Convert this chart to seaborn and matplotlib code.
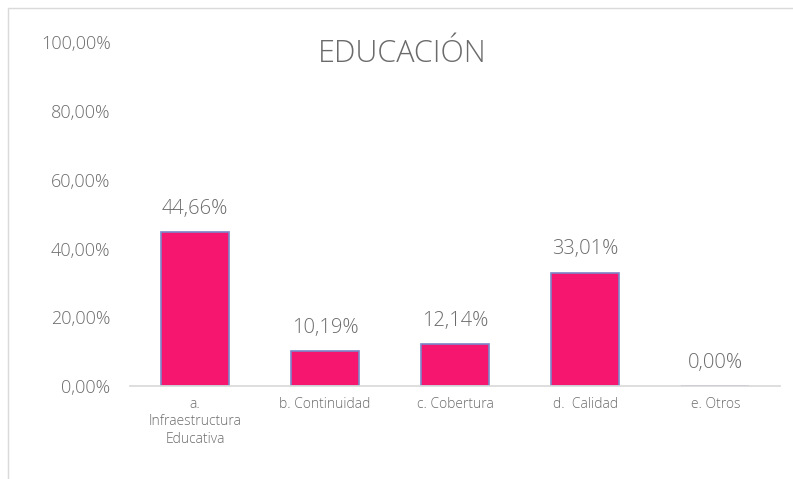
import pandas as pd
import matplotlib.pyplot as plt
from matplotlib.ticker import FuncFormatter
import seaborn as sns

sns.set_theme(style="white")
plt.rcParams['font.family'] = ['Open Sans', 'DejaVu Sans']

categories = ['a.\nInfraestructura\nEducativa', 'b. Continuidad', 'c. Cobertura',
              'd.  Calidad', 'e. Otros']
values = [0.4466, 0.1019, 0.1214, 0.3301, 0.0]
labels = ['44,66%', '10,19%', '12,14%', '33,01%', '0,00%']

df = pd.DataFrame({'cat': categories, 'val': values})

fig = plt.figure(figsize=(7.93, 4.79), dpi=100)
ax = fig.add_axes([0.164, 0.194, 0.82, 0.718])

sns.barplot(data=df, x='cat', y='val', color='#F7166F', width=0.52,
            edgecolor='#7A86C8', linewidth=1.2, saturation=1, ax=ax)

for i, (v, t) in enumerate(zip(values, labels)):
    ax.text(i, v + 0.038, t, ha='center', va='bottom', fontsize=14.5,
            color='#6B6B6B', fontweight='light')

ax.set_ylim(0, 1)
ax.set_yticks([0, 0.2, 0.4, 0.6, 0.8, 1.0])
ax.yaxis.set_major_formatter(FuncFormatter(lambda y, _: f"{y*100:.2f}%".replace('.', ',')))
ax.tick_params(axis='y', labelsize=13, labelcolor='#6B6B6B', length=0, pad=14)
ax.tick_params(axis='x', labelsize=10, labelcolor='#6B6B6B', length=0, pad=8)
for lbl in ax.get_xticklabels() + ax.get_yticklabels():
    lbl.set_fontweight('light')
ax.set_xlabel('')
ax.set_ylabel('')
for s in ['top', 'right', 'left']:
    ax.spines[s].set_visible(False)
ax.spines['bottom'].set_color('#D9D9D9')

fig.text(0.507, 0.887, 'EDUCACIÓN', ha='center', va='center', fontsize=22,
         color='#6B6B6B', fontweight='light')

fig.patches.append(plt.Rectangle((0.01, -0.02), 1.0, 1.003, transform=fig.transFigure,
                                 fill=False, edgecolor='#D9D9D9', linewidth=1))

fig.savefig('out.png', dpi=100)
